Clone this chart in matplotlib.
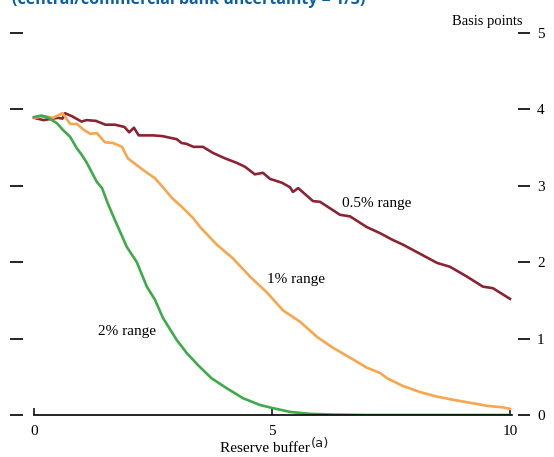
import matplotlib
matplotlib.use("Agg")
import matplotlib.pyplot as plt

# Data (basis points vs reserve buffer)
x_05 = [0.0, 0.2, 0.5, 0.6, 0.65, 0.8, 1.0, 1.1, 1.3, 1.5, 1.7, 1.9, 2.0, 2.1, 2.2,
        2.5, 2.7, 3.0, 3.1, 3.2, 3.35, 3.55, 3.76, 4.01, 4.26, 4.43, 4.64, 4.81,
        4.96, 5.21, 5.38, 5.44, 5.55, 5.86, 6.01, 6.43, 6.64, 6.99, 7.27, 7.54,
        7.75, 8.05, 8.47, 8.74, 9.1, 9.43, 9.64, 10.0]
y_05 = [3.89, 3.86, 3.89, 3.88, 3.95, 3.91, 3.84, 3.86, 3.85, 3.80, 3.80, 3.77,
        3.70, 3.76, 3.66, 3.66, 3.65, 3.61, 3.56, 3.55, 3.51, 3.51, 3.43, 3.36,
        3.30, 3.25, 3.15, 3.17, 3.09, 3.04, 2.98, 2.92, 2.97, 2.80, 2.79, 2.62,
        2.60, 2.46, 2.38, 2.29, 2.23, 2.13, 1.99, 1.94, 1.81, 1.68, 1.66, 1.52]

x_1 = [0.0, 0.23, 0.4, 0.6, 0.76, 0.9, 1.03, 1.18, 1.32, 1.49, 1.66, 1.85, 1.97,
       2.16, 2.33, 2.54, 2.71, 2.9, 3.13, 3.34, 3.49, 3.84, 4.18, 4.54, 4.9, 5.23,
       5.59, 5.95, 6.28, 6.64, 6.99, 7.27, 7.42, 7.75, 8.11, 8.47, 8.8, 9.16,
       9.52, 9.85, 10.0]
y_1 = [3.89, 3.91, 3.89, 3.95, 3.81, 3.81, 3.74, 3.68, 3.69, 3.57, 3.56, 3.51,
       3.36, 3.27, 3.19, 3.10, 2.98, 2.84, 2.71, 2.58, 2.46, 2.23, 2.05, 1.81,
       1.60, 1.37, 1.22, 1.02, 0.88, 0.75, 0.62, 0.55, 0.48, 0.38, 0.30, 0.24,
       0.20, 0.16, 0.12, 0.10, 0.08]

x_2 = [0.0, 0.16, 0.3, 0.48, 0.61, 0.76, 0.9, 1.01, 1.11, 1.22, 1.32, 1.43, 1.55,
       1.68, 1.95, 2.16, 2.37, 2.54, 2.71, 3.0, 3.21, 3.45, 3.73, 4.05, 4.39,
       4.75, 5.02, 5.38, 5.8, 6.3, 7.0, 8.0, 9.0, 10.0]
y_2 = [3.90, 3.92, 3.89, 3.82, 3.73, 3.64, 3.49, 3.40, 3.30, 3.17, 3.05, 2.97,
       2.77, 2.58, 2.20, 2.00, 1.68, 1.51, 1.27, 0.98, 0.81, 0.65, 0.48, 0.35,
       0.22, 0.13, 0.09, 0.04, 0.015, 0.005, 0.0, 0.0, 0.0, 0.0]

yticks = [0, 1, 2, 3, 4, 5]
xticks = [0, 5, 10]

serif = "Liberation Serif"

fig = plt.figure(figsize=(5.54, 4.57), dpi=100)
ax = fig.add_axes([10 / 554, 42 / 457, 520 / 554, 382 / 457])

ax.plot(x_05, y_05, color="#8c2333", lw=1.9)
ax.plot(x_1, y_1, color="#f8a64e", lw=1.9)
ax.plot(x_2, y_2, color="#3dab48", lw=1.9)

ax.set_xlim(-0.504, 10.42)
ax.set_ylim(0, 5)

for side in ["top", "left", "right"]:
    ax.spines[side].set_visible(False)
ax.spines["bottom"].set_bounds(0, 10.05)
ax.spines["bottom"].set_linewidth(1.2)

ax.set_xticks(xticks)
ax.set_xticklabels([str(t) for t in xticks], fontsize=11, family=serif)
ax.tick_params(axis="x", direction="in", length=5, width=1.1, pad=7)

ax.set_yticks(yticks)
ax.set_yticklabels([str(t) for t in yticks], fontsize=11, family=serif)
ax.tick_params(axis="y", direction="in", length=9, width=1.2,
               left=True, right=True, labelleft=False, labelright=True, pad=5)

ax.text(6.47, 2.77, "0.5% range", fontsize=11, family=serif, va="center")
ax.text(4.9, 1.77, "1% range", fontsize=11, family=serif, va="center")
ax.text(1.34, 1.09, "2% range", fontsize=11, family=serif, va="center")

fig.text(522 / 554, 1 - 22 / 457, "Basis points", fontsize=10.5, family=serif,
         ha="right", va="center")
fig.text(310 / 554, 1 - 449 / 457, "Reserve buffer", fontsize=11, family=serif,
         ha="right", va="center")
fig.text(311 / 554, 1 - 444 / 457, "(a)", fontsize=9.5, family="DejaVu Sans",
         ha="left", va="center", color="#222222")

fig.text(12 / 554, 1 - 4 / 457, "(central/commercial bank uncertainty = 1/3)",
         fontsize=11.5, fontweight="bold", family="Open Sans", color="#0b5ea8",
         ha="left", va="baseline")

fig.savefig("out.png", dpi=100)
